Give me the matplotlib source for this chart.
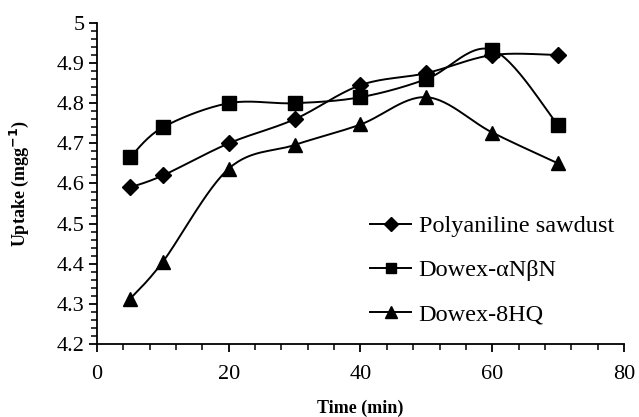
import numpy as np
import matplotlib
matplotlib.use("Agg")
import matplotlib.pyplot as plt
from matplotlib.ticker import MultipleLocator, FuncFormatter

time_min = [5, 10, 20, 30, 40, 50, 60, 70]
polyaniline = [4.59, 4.62, 4.70, 4.76, 4.845, 4.875, 4.92, 4.92]
dowex_anbn = [4.665, 4.74, 4.80, 4.80, 4.815, 4.86, 4.933, 4.745]
dowex_8hq = [4.312, 4.405, 4.637, 4.696, 4.747, 4.815, 4.727, 4.65]
labels = ["Polyaniline sawdust", "Dowex-\u03b1N\u03b2N", "Dowex-8HQ"]
markers = ["D", "s", "^"]
msizes = [8.5, 9.5, 10]

plt.rcParams['font.family'] = ['Liberation Serif', 'DejaVu Serif']

def smooth(x, y, n=30):
    # Catmull-Rom style smoothing (like spreadsheet smoothed lines)
    x = np.asarray(x, float); y = np.asarray(y, float)
    P = np.column_stack([x, y])
    sx, sy = 1 / 80.0, 1 / 0.8 * 0.61
    Q = P * [sx, sy]
    pts = []
    for i in range(len(Q) - 1):
        p0 = Q[i - 1] if i > 0 else Q[i]
        p1 = Q[i]; p2 = Q[i + 1]
        p3 = Q[i + 2] if i + 2 < len(Q) else Q[i + 1]
        c1 = p1 + (p2 - p0) / 6.0
        c2 = p2 - (p3 - p1) / 6.0
        t = np.linspace(0, 1, n)[:, None]
        b = (1 - t) ** 3 * p1 + 3 * (1 - t) ** 2 * t * c1 + 3 * (1 - t) * t ** 2 * c2 + t ** 3 * p2
        pts.append(b if i == 0 else b[1:])
    B = np.vstack(pts) / [sx, sy]
    return B[:, 0], B[:, 1]

fig = plt.figure(figsize=(6.39, 4.17), dpi=100)
ax = fig.add_axes([0.1518, 0.175, 0.8247, 0.770])

series = [polyaniline, dowex_anbn, dowex_8hq]
for ys, lab, m, ms in zip(series, labels, markers, msizes):
    sxv, syv = smooth(time_min, ys)
    ax.plot(sxv, syv, color='black', lw=1.4)
    ax.plot(time_min, ys, linestyle='none', marker=m, ms=ms, color='black')
    ax.plot([], [], color='black', lw=1.4, marker=m, ms=ms * 0.8, label=lab)

ax.set_xlim(0, 80)
ax.set_ylim(4.2, 5.0)
ax.xaxis.set_major_locator(MultipleLocator(20))
ax.xaxis.set_minor_locator(MultipleLocator(4))
ax.yaxis.set_major_locator(MultipleLocator(0.1))
ax.yaxis.set_minor_locator(MultipleLocator(0.02))
ax.yaxis.set_major_formatter(FuncFormatter(lambda v, p: "5" if abs(v - 5) < 1e-9 else f"{v:.1f}"))
for s in ['top', 'right']:
    ax.spines[s].set_visible(False)
for s in ['left', 'bottom']:
    ax.spines[s].set_linewidth(1.3)
ax.tick_params(which='major', direction='out', length=6, width=1.3, labelsize=16, colors='black')
ax.tick_params(which='minor', direction='out', length=4, width=1.1)
ax.tick_params(axis='x', pad=9)
ax.tick_params(axis='y', pad=3)

ax.set_xlabel("Time (min)", fontsize=13, fontweight='bold')
ax.set_ylabel("Uptake (mgg$^{\\mathbf{-1}}$)", fontsize=13, fontweight='bold')
ax.xaxis.set_label_coords(0.499, -0.172)
ax.yaxis.set_label_coords(-0.125, 0.50)

leg = ax.legend(loc='center left', bbox_to_anchor=(0.579, 0.352), bbox_transform=fig.transFigure,
                frameon=False, fontsize=17.5, borderpad=0, borderaxespad=0,
                handlelength=1.7, labelspacing=0.9, handletextpad=0.3)

fig.savefig("out.png", dpi=100)
